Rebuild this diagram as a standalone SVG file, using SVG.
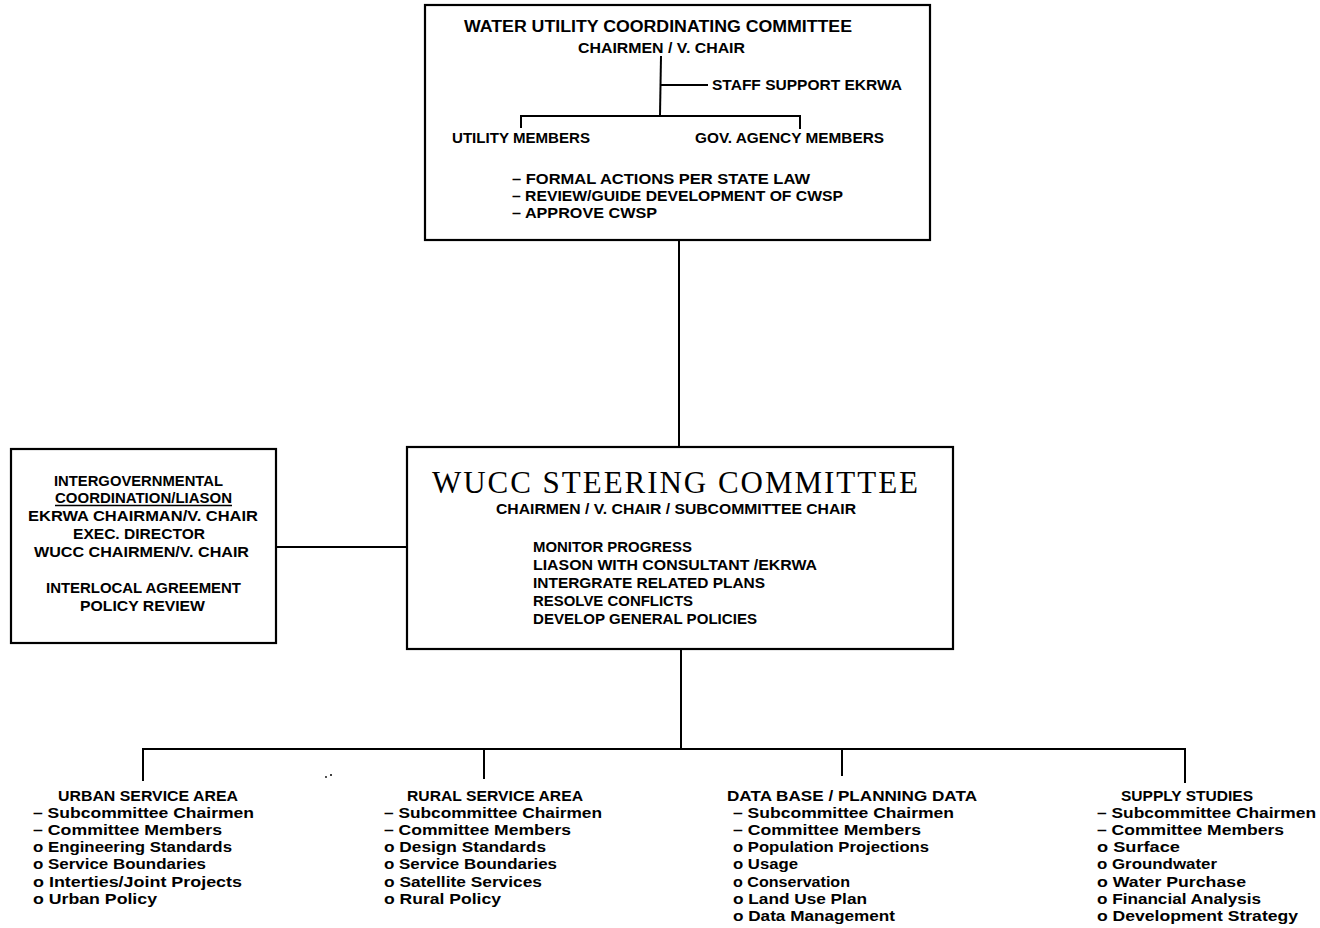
<svg xmlns="http://www.w3.org/2000/svg" width="1320" height="928" viewBox="0 0 1320 928">
  <style>
    .box { fill: #ffffff; stroke: #000000; stroke-width: 2.2; }
    .ln { fill: none; stroke: #000000; stroke-width: 2; }
    text { font-family: "Liberation Sans", Arial, sans-serif; font-weight: bold; fill: #000000; }
    .cap { font-size: 15px; }
    .sub { font-size: 15px; }
    .big { font-family: "Liberation Serif", "Times New Roman", serif; font-weight: normal; font-size: 31px; }
  </style>
  <rect width="1320" height="928" fill="#ffffff"/>

  <!-- connectors between committees -->
  <g id="connectors">
    <line class="ln" x1="679" y1="240" x2="679" y2="447"/>
    <line class="ln" x1="276" y1="547" x2="407" y2="547"/>
    <line class="ln" x1="681" y1="649" x2="681" y2="749"/>
    <polyline class="ln" points="143,781 143,749 1185,749 1185,783"/>
    <line class="ln" x1="484" y1="749" x2="484" y2="779"/>
    <line class="ln" x1="842" y1="749" x2="842" y2="776"/>
    <circle cx="326" cy="777" r="0.9" fill="#000"/>
    <circle cx="331" cy="775" r="1" fill="#000"/>
  </g>

  <!-- Water Utility Coordinating Committee -->
  <g id="wucc">
    <rect class="box" x="425" y="5" width="505" height="235"/>
    <text class="cap" x="464" y="32" textLength="388" lengthAdjust="spacingAndGlyphs" style="font-size:16px">WATER UTILITY COORDINATING COMMITTEE</text>
    <text class="cap" x="578" y="53" textLength="167" lengthAdjust="spacingAndGlyphs">CHAIRMEN / V. CHAIR</text>
    <polyline class="ln" points="661,56 660,115"/>
    <line class="ln" x1="660" y1="85" x2="708" y2="85"/>
    <text class="cap" x="712" y="90" textLength="190" lengthAdjust="spacingAndGlyphs">STAFF SUPPORT EKRWA</text>
    <polyline class="ln" points="521,128 521,116 800,116 800,129"/>
    <text class="cap" x="452" y="143" textLength="138" lengthAdjust="spacingAndGlyphs">UTILITY MEMBERS</text>
    <text class="cap" x="695" y="143" textLength="189" lengthAdjust="spacingAndGlyphs">GOV. AGENCY MEMBERS</text>
    <text class="cap" x="512" y="184" textLength="298" lengthAdjust="spacingAndGlyphs">– FORMAL ACTIONS PER STATE LAW</text>
    <text class="cap" x="512" y="201" textLength="331" lengthAdjust="spacingAndGlyphs">– REVIEW/GUIDE DEVELOPMENT OF CWSP</text>
    <text class="cap" x="512" y="218" textLength="145" lengthAdjust="spacingAndGlyphs">– APPROVE CWSP</text>
  </g>

  <!-- Intergovernmental coordination -->
  <g id="intergov">
    <rect class="box" x="11" y="449" width="265" height="194"/>
    <text class="cap" x="54" y="486" textLength="169" lengthAdjust="spacingAndGlyphs">INTERGOVERNMENTAL</text>
    <text class="cap" x="55" y="503" textLength="177" lengthAdjust="spacingAndGlyphs">COORDINATION/LIASON</text>
    <line x1="55" y1="505.5" x2="232" y2="505.5" stroke="#000" stroke-width="1.4"/>
    <text class="cap" x="28" y="521" textLength="230" lengthAdjust="spacingAndGlyphs">EKRWA CHAIRMAN/V. CHAIR</text>
    <text class="cap" x="73" y="539" textLength="132" lengthAdjust="spacingAndGlyphs">EXEC. DIRECTOR</text>
    <text class="cap" x="34" y="557" textLength="215" lengthAdjust="spacingAndGlyphs">WUCC CHAIRMEN/V. CHAIR</text>
    <text class="cap" x="46" y="593" textLength="195" lengthAdjust="spacingAndGlyphs">INTERLOCAL AGREEMENT</text>
    <text class="cap" x="80" y="611" textLength="125" lengthAdjust="spacingAndGlyphs">POLICY REVIEW</text>
  </g>

  <!-- Steering committee -->
  <g id="steering">
    <rect class="box" x="407" y="447" width="546" height="202"/>
    <text class="big" x="432" y="493" textLength="486" lengthAdjust="spacing">WUCC STEERING COMMITTEE</text>
    <text class="cap" x="496" y="514" textLength="360" lengthAdjust="spacingAndGlyphs">CHAIRMEN / V. CHAIR / SUBCOMMITTEE CHAIR</text>
    <text class="cap" x="533" y="552" textLength="159" lengthAdjust="spacingAndGlyphs">MONITOR PROGRESS</text>
    <text class="cap" x="533" y="570" textLength="284" lengthAdjust="spacingAndGlyphs">LIASON WITH CONSULTANT /EKRWA</text>
    <text class="cap" x="533" y="588" textLength="232" lengthAdjust="spacingAndGlyphs">INTERGRATE RELATED PLANS</text>
    <text class="cap" x="533" y="606" textLength="160" lengthAdjust="spacingAndGlyphs">RESOLVE CONFLICTS</text>
    <text class="cap" x="533" y="624" textLength="224" lengthAdjust="spacingAndGlyphs">DEVELOP GENERAL POLICIES</text>
  </g>

  <!-- Urban service area -->
  <g id="urban">
    <text class="sub" x="58" y="801" textLength="180" lengthAdjust="spacingAndGlyphs">URBAN SERVICE AREA</text>
    <text class="sub" x="33" y="818" textLength="221" lengthAdjust="spacingAndGlyphs">– Subcommittee Chairmen</text>
    <text class="sub" x="33" y="835" textLength="189" lengthAdjust="spacingAndGlyphs">– Committee Members</text>
    <text class="sub" x="33" y="852" textLength="199" lengthAdjust="spacingAndGlyphs">o Engineering Standards</text>
    <text class="sub" x="33" y="869" textLength="173" lengthAdjust="spacingAndGlyphs">o Service Boundaries</text>
    <text class="sub" x="33" y="887" textLength="209" lengthAdjust="spacingAndGlyphs">o Interties/Joint Projects</text>
    <text class="sub" x="33" y="904" textLength="124" lengthAdjust="spacingAndGlyphs">o Urban Policy</text>
  </g>

  <!-- Rural service area -->
  <g id="rural">
    <text class="sub" x="407" y="801" textLength="176" lengthAdjust="spacingAndGlyphs">RURAL SERVICE AREA</text>
    <text class="sub" x="384" y="818" textLength="218" lengthAdjust="spacingAndGlyphs">– Subcommittee Chairmen</text>
    <text class="sub" x="384" y="835" textLength="187" lengthAdjust="spacingAndGlyphs">– Committee Members</text>
    <text class="sub" x="384" y="852" textLength="162" lengthAdjust="spacingAndGlyphs">o Design Standards</text>
    <text class="sub" x="384" y="869" textLength="173" lengthAdjust="spacingAndGlyphs">o Service Boundaries</text>
    <text class="sub" x="384" y="887" textLength="158" lengthAdjust="spacingAndGlyphs">o Satellite Services</text>
    <text class="sub" x="384" y="904" textLength="117" lengthAdjust="spacingAndGlyphs">o Rural Policy</text>
  </g>

  <!-- Data base / planning data -->
  <g id="database">
    <text class="sub" x="727" y="801" textLength="250" lengthAdjust="spacingAndGlyphs">DATA BASE / PLANNING DATA</text>
    <text class="sub" x="733" y="818" textLength="221" lengthAdjust="spacingAndGlyphs">– Subcommittee Chairmen</text>
    <text class="sub" x="733" y="835" textLength="188" lengthAdjust="spacingAndGlyphs">– Committee Members</text>
    <text class="sub" x="733" y="852" textLength="196" lengthAdjust="spacingAndGlyphs">o Population Projections</text>
    <text class="sub" x="733" y="869" textLength="65" lengthAdjust="spacingAndGlyphs">o Usage</text>
    <text class="sub" x="733" y="887" textLength="117" lengthAdjust="spacingAndGlyphs">o Conservation</text>
    <text class="sub" x="733" y="904" textLength="134" lengthAdjust="spacingAndGlyphs">o Land Use Plan</text>
    <text class="sub" x="733" y="921" textLength="162" lengthAdjust="spacingAndGlyphs">o Data Management</text>
  </g>

  <!-- Supply studies -->
  <g id="supply">
    <text class="sub" x="1121" y="801" textLength="132" lengthAdjust="spacingAndGlyphs">SUPPLY STUDIES</text>
    <text class="sub" x="1097" y="818" textLength="219" lengthAdjust="spacingAndGlyphs">– Subcommittee Chairmen</text>
    <text class="sub" x="1097" y="835" textLength="187" lengthAdjust="spacingAndGlyphs">– Committee Members</text>
    <text class="sub" x="1097" y="852" textLength="83" lengthAdjust="spacingAndGlyphs">o Surface</text>
    <text class="sub" x="1097" y="869" textLength="120" lengthAdjust="spacingAndGlyphs">o Groundwater</text>
    <text class="sub" x="1097" y="887" textLength="149" lengthAdjust="spacingAndGlyphs">o Water Purchase</text>
    <text class="sub" x="1097" y="904" textLength="164" lengthAdjust="spacingAndGlyphs">o Financial Analysis</text>
    <text class="sub" x="1097" y="921" textLength="201" lengthAdjust="spacingAndGlyphs">o Development Strategy</text>
  </g>
</svg>
